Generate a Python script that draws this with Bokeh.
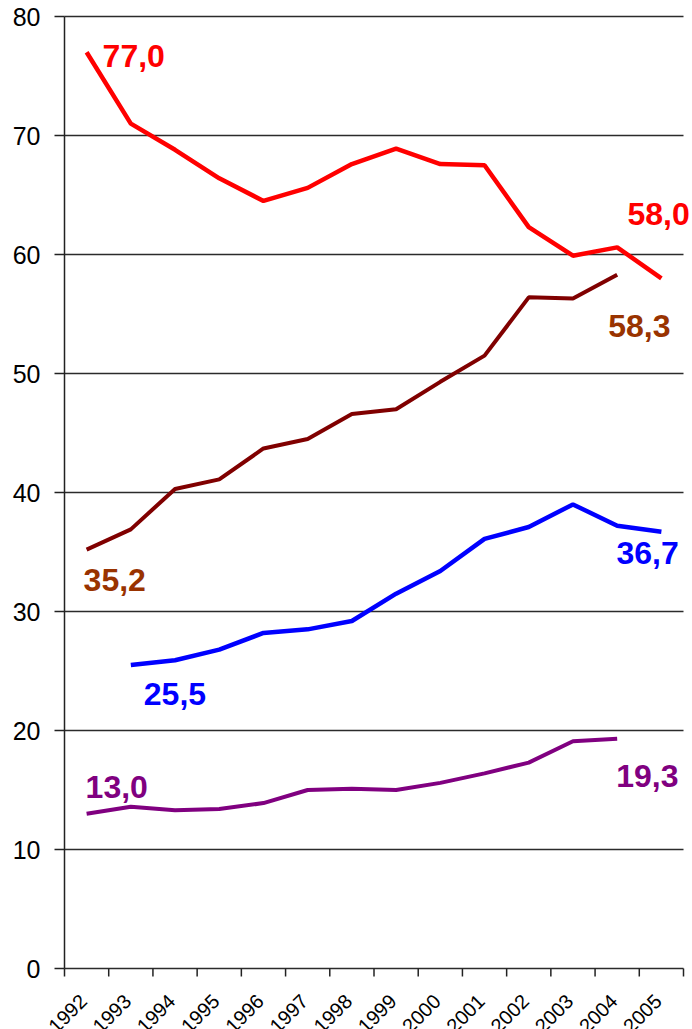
import math
from bokeh.plotting import figure
from bokeh.models import Range1d, FixedTicker
from bokeh.core.properties import value
from bokeh.embed import file_html
from bokeh.resources import INLINE

years = ["1992", "1993", "1994", "1995", "1996", "1997", "1998",
         "1999", "2000", "2001", "2002", "2003", "2004", "2005"]
y_ticks = [0, 10, 20, 30, 40, 50, 60, 70, 80]

red_years = years[0:14]
red_vals = [77.0, 71.0, 68.8, 66.4, 64.5, 65.6, 67.6, 68.9, 67.6, 67.5, 62.3, 59.9, 60.6, 58.0]

darkred_years = years[0:13]
darkred_vals = [35.2, 36.9, 40.3, 41.1, 43.7, 44.5, 46.6, 47.0, 49.3, 51.5, 56.4, 56.3, 58.3]

blue_years = years[1:14]
blue_vals = [25.5, 25.9, 26.8, 28.2, 28.5, 29.2, 31.5, 33.4, 36.1, 37.1, 39.0, 37.2, 36.7]

purple_years = years[0:13]
purple_vals = [13.0, 13.6, 13.3, 13.4, 13.9, 15.0, 15.1, 15.0, 15.6, 16.4, 17.3, 19.1, 19.3]

FONT = "Liberation Sans"
AXIS_COL = "#222222"
GRID_COL = "#2b2b2b"

W, H = 692, 1029
# plot box in canvas pixels: x 64..683, y(80)=16, y(0)=968
LEFT, RIGHT, TOP, ZERO = 64, 683, 16, 968
NCAT = len(years)
PXX = (RIGHT - LEFT) / NCAT
PXY = (ZERO - TOP) / 80.0
TICK_LEN = 8 / PXY


def xpos(yrs):
    return [years.index(y) + 0.5 for y in yrs]


def fmt(v):
    return f"{v:.1f}".replace(".", ",")


# the frame covers the whole canvas so that every text lies inside it
p = figure(width=W, height=H, output_backend="svg", toolbar_location=None,
           x_range=Range1d(-LEFT / PXX, NCAT + (W - RIGHT) / PXX),
           y_range=Range1d(-(H - ZERO) / PXY, 80 + TOP / PXY),
           x_axis_location=None,
           min_border_left=0, min_border_right=0, min_border_top=0,
           min_border_bottom=0)
p.outline_line_color = None
p.background_fill_color = "white"
p.border_fill_color = "white"
p.xgrid.grid_line_color = None
p.ygrid.grid_line_color = None

# value axis, placed at the first category boundary
p.yaxis.fixed_location = 0
p.yaxis.ticker = FixedTicker(ticks=y_ticks)
p.yaxis.bounds = (0, 80)
p.yaxis.major_tick_out = 10
p.yaxis.major_tick_in = 0
p.yaxis.minor_tick_line_color = None
p.yaxis.major_label_text_font = FONT
p.yaxis.major_label_text_font_size = "25px"
p.yaxis.major_label_text_color = "black"
p.yaxis.major_label_standoff = 14
p.yaxis.axis_line_color = AXIS_COL
p.yaxis.axis_line_width = 1.5
p.yaxis.major_tick_line_color = AXIS_COL
p.yaxis.major_tick_line_width = 1.5

# horizontal grid lines (the one at 0 is the category axis line)
p.segment(x0=[0] * len(y_ticks), y0=y_ticks, x1=[NCAT] * len(y_ticks), y1=y_ticks,
          line_color=GRID_COL, line_width=1.5)

# category axis: tick marks at category boundaries, labels at centres
centres = [i + 0.5 for i in range(NCAT)]
bounds = list(range(NCAT + 1))
p.segment(x0=bounds, y0=[0] * len(bounds), x1=bounds, y1=[-TICK_LEN] * len(bounds),
          line_color=AXIS_COL, line_width=1.5)
p.text(x=centres, y=[0] * NCAT, text=years,
       x_offset=-19, y_offset=45, angle=math.pi / 4,
       text_align="center", text_baseline="middle",
       text_font=value(FONT), text_font_size="20px", text_color="black")

series = [
    (red_years, red_vals, "#FF0000", 4.5, "#FF0000"),
    (darkred_years, darkred_vals, "#800000", 4, "#993300"),
    (blue_years, blue_vals, "#0000FF", 4.5, "#0000FF"),
    (purple_years, purple_vals, "#800080", 4, "#800080"),
]
for yrs, vals, col, lw, _ in series:
    p.line(xpos(yrs), vals, line_color=col, line_width=lw)

# end labels: (series index, first/last, x offset px, y offset px)
label_spec = [
    (0, 0, 16, 4), (0, -1, -34, -64),
    (1, 0, -3, 30), (1, -1, -9, 51),
    (2, 0, 13, 29), (2, -1, -45, 21),
    (3, 0, -1, -27), (3, -1, -1, 37),
]
for si, idx, dx, dy in label_spec:
    yrs, vals, _, _, lcol = series[si]
    xs = xpos(yrs)
    p.text(x=[xs[idx]], y=[vals[idx]], text=[fmt(vals[idx])],
           x_offset=dx, y_offset=dy, text_color=lcol,
           text_font=value(FONT), text_font_size="32px", text_font_style="bold",
           text_align="left", text_baseline="alphabetic")

open("out.html", "w").write(file_html(p, INLINE))
